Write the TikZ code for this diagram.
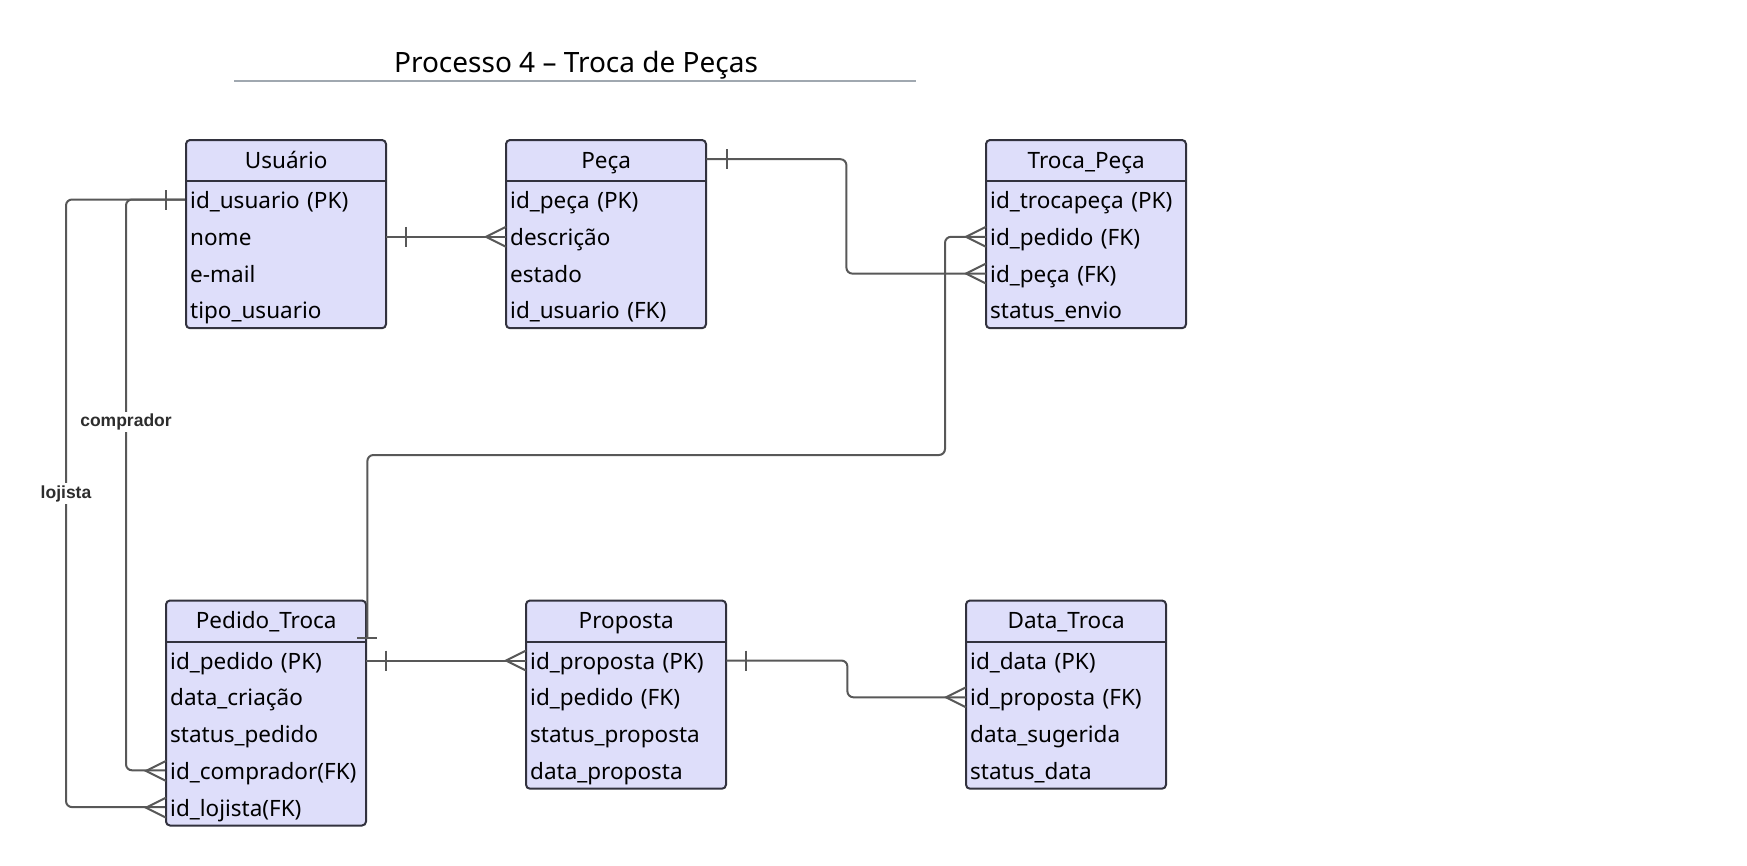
\documentclass[tikz,border=0pt]{standalone}
\usepackage{fontspec}
\setmainfont{Noto Sans}
\newfontfamily\rolefont{Liberation Sans}
\usepackage{tikz}
\usetikzlibrary{positioning}

\definecolor{entfill}{RGB}{222,222,250}
\definecolor{entedge}{RGB}{50,50,62}
\definecolor{relgray}{RGB}{88,88,88}
\definecolor{rulegray}{RGB}{160,168,176}
\definecolor{roletext}{RGB}{45,45,45}

\tikzset{
  entbox/.style={draw=entedge, fill=entfill, line width=2pt, rounded corners=4pt},
  entsep/.style={draw=entedge, line width=2pt},
  enttitle/.style={minimum width=200pt, minimum height=41pt, inner sep=0pt, text height=15pt, text depth=0pt, font=\fontsize{22.5}{27}\selectfont},
  entrow/.style={inner xsep=4pt, inner ysep=0pt, text width=192pt, minimum height=36.8pt, text height=18pt, text depth=1pt, align=left, font=\fontsize{22.5}{27}\selectfont},
  rel/.style={draw=relgray, line width=2pt, rounded corners=6pt},
  relmark/.style={draw=relgray, line width=2pt},
  rellabel/.style={fill=white, inner sep=2pt, text=roletext, font=\rolefont\bfseries\fontsize{17.5}{20}\selectfont},
}

% entity: name, top left, number of rows, title, rows
\newcommand{\erentity}[5]{%
  \draw[entbox] (#2) rectangle ++(200,41+#3*36.8);
  \node[enttitle, anchor=north west] (#1) at (#2) {#4};
  \draw[entsep] (#1.south west) -- (#1.south east);
  \foreach \txt [count=\i] in {#5}
    \node[entrow, anchor=north west] (#1-\i) at ([yshift=-(\i-1)*36.8pt]#1.south west) {\txt};
}
% crow's foot at the west side of a row
\newcommand{\crowfoot}[1]{%
  \draw[relmark] ([yshift=10pt]#1.west) -- ([xshift=-20pt]#1.west) -- ([yshift=-10pt]#1.west);
}
% one bar across a horizontal line
\newcommand{\onebar}[1]{%
  \draw[relmark] (#1) ++(0,-10) -- ++(0,20);
}

\begin{document}
\begin{tikzpicture}[x=1pt, y=-1pt]
  \fill[white] (0,0) rectangle (1747,865);
  \useasboundingbox (0,0) rectangle (1747,865);

  % title
  \node[font=\fontsize{28}{34}\selectfont] (title) at (576,65) {Processo 4 -- Troca de Peças};
  \draw[rulegray, line width=1.5pt] (234,81) -- (916,81);

  % connectors first, entities on top
  \draw[rel] (186,199.5) -- ++(-60,0) |- (166,770.3);
  \draw[rel] (186,199.5) -- ++(-120,0) |- (166,807.1);

  \erentity{usu}{186,140}{4}{Usuário}{id\_usuario (PK),nome,e-mail,tipo\_usuario}
  \erentity{peca}{506,140}{4}{Peça}{id\_peça (PK),descrição,estado,id\_usuario (FK)}
  \erentity{troca}{986,140}{4}{Troca\_Peça}{id\_trocapeça (PK),id\_pedido (FK),id\_peça (FK),status\_envio}
  \erentity{ped}{166,600.5}{5}{Pedido\_Troca}{id\_pedido (PK),data\_criação,status\_pedido,id\_comprador(FK),id\_lojista(FK)}
  \erentity{prop}{526,600.5}{4}{Proposta}{id\_proposta (PK),id\_pedido (FK),status\_proposta,data\_proposta}
  \erentity{dat}{966,600.5}{4}{Data\_Troca}{id\_data (PK),id\_proposta (FK),data\_sugerida,status\_data}

  \coordinate (ped-top) at ([xshift=1pt,yshift=3.5pt]ped.south east);
  \coordinate (peca-out) at ([yshift=1.5pt]peca.east);

  \draw[rel] (usu-2.east) -- (peca-2.west);
  \draw[rel] (peca-out) -- ++(140,0) |- (troca-3.west);
  \draw[rel] (ped-top) |- (945,455) |- (troca-2.west);
  \draw[rel] (ped-1.east) -- (prop-1.west);
  \draw[rel] (prop-1.east) -- ++(121,0) |- (dat-2.west);

  % cardinality marks
  \onebar{[xshift=-20pt]usu-1.west}
  \onebar{[xshift=20pt]usu-2.east}
  \onebar{[xshift=21pt]peca-out}
  \onebar{[xshift=20pt]ped-1.east}
  \onebar{[xshift=20pt]prop-1.east}
  \draw[relmark] ([xshift=-10pt]ped-top) -- ([xshift=10pt]ped-top);
  \crowfoot{peca-2}
  \crowfoot{troca-2}
  \crowfoot{troca-3}
  \crowfoot{prop-1}
  \crowfoot{dat-2}
  \crowfoot{ped-4}
  \crowfoot{ped-5}

  % role labels
  \node[rellabel] (lbl-comprador) at (126,422) {comprador};
  \node[rellabel] (lbl-lojista) at (66,493.5) {lojista};
\end{tikzpicture}
\end{document}
